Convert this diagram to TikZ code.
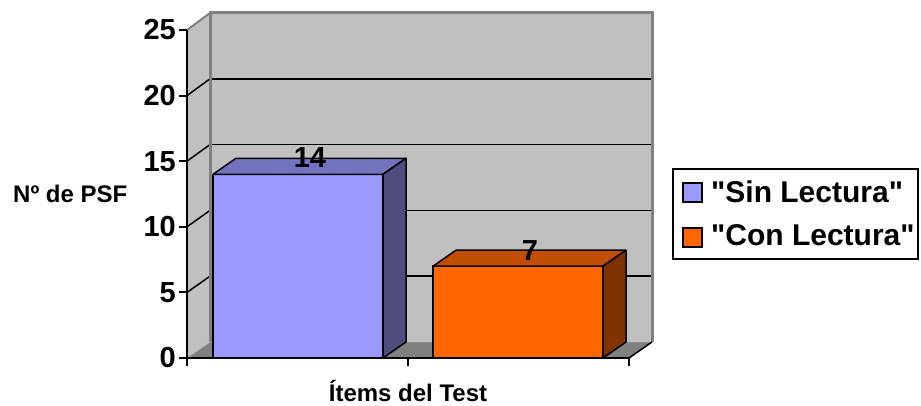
\documentclass[tikz,border=0pt]{standalone}
\usepackage{fontspec}
\setmainfont{Liberation Sans}[Ligatures=TeXOff]
\definecolor{wall}{RGB}{192,192,192}
\definecolor{walledge}{RGB}{128,128,128}
\definecolor{floorc}{RGB}{128,128,128}
\definecolor{sinF}{RGB}{153,153,255}
\definecolor{sinT}{RGB}{115,115,191}
\definecolor{sinS}{RGB}{77,77,128}
\definecolor{conF}{RGB}{255,102,0}
\definecolor{conT}{RGB}{192,77,0}
\definecolor{conS}{RGB}{128,51,0}
\begin{document}
\begin{tikzpicture}[x=1pt,y=-1pt,
  big/.style={font=\bfseries\fontsize{29}{29}\selectfont, inner sep=0pt},
  legtext/.style={font=\bfseries\fontsize{30}{30}\selectfont, inner sep=0pt},
  mid/.style={font=\bfseries\fontsize{24}{24}\selectfont, inner sep=0pt},
  grid/.style={black, line width=1.5pt},
  baredge/.style={draw=black, line width=1.5pt, line join=round},
  axisline/.style={black, line width=2pt}]
\useasboundingbox (0,0) rectangle (921,406);
% walls and floor
\fill[wall] (210,13) rectangle (652,342);
\fill[wall] (187,30) -- (210,13) -- (210,342) -- (187,358) -- cycle;
\fill[floorc] (187,358) -- (210,342) -- (652,342) -- (629,358) -- cycle;
\draw[walledge!60!white, line width=0.8pt] (187,358) -- (210,342) -- (652,342);
% gridlines
\foreach \k in {1,2,3,4}{
  \draw[grid] (210,{342-65.8*\k}) -- (652,{342-65.8*\k});
  \draw[grid] (187,{358-65.6*\k}) -- (210,{342-65.8*\k});
}
% wall borders
\draw[walledge, line width=3pt] (210,342) -- (210,13) -- (652,13) -- (652,342);
\draw[walledge, line width=2pt] (187,30) -- (210,13);
\draw[black, line width=1.5pt] (652,342) -- (629,358);
% bar 1
\filldraw[baredge, fill=sinF] (213,174.3) rectangle (383,358);
\filldraw[baredge, fill=sinT] (213,174.3) -- (236,158.3) -- (406,158.3) -- (383,174.3) -- cycle;
\filldraw[baredge, fill=sinS] (383,174.3) -- (406,158.3) -- (406,342) -- (383,358) -- cycle;
% bar 2
\filldraw[baredge, fill=conF] (433,266.2) rectangle (603,358);
\filldraw[baredge, fill=conT] (433,266.2) -- (456,250.2) -- (626,250.2) -- (603,266.2) -- cycle;
\filldraw[baredge, fill=conS] (603,266.2) -- (626,250.2) -- (626,342) -- (603,358) -- cycle;
% axes
\draw[axisline] (187,30) -- (187,366);
\draw[axisline] (187,358) -- (629,358);
\foreach \x in {408,629} \draw[axisline] (\x,358) -- (\x,366);
\foreach \v/\n in {0/t0,5/t5,10/t10,15/t15,20/t20,25/t25}{
  \draw[axisline] (179,{358-13.12*\v}) -- (187,{358-13.12*\v});
  \node[big, anchor=east] (\n) at (176,{358-13.12*\v}) {\v};
}
% data labels
\node[big, anchor=base] (l14) at (310,168) {14};
\node[big, anchor=base] (l7) at (530,261) {7};
% axis titles
\node[mid, anchor=base west] (ytitle) at (13,203) {Nº de PSF};
\node[mid, anchor=base] (xtitle) at (408,401) {Ítems del Test};
% legend
\draw[black, line width=1.5pt] (673,169) rectangle (918,259);
\filldraw[draw=black, line width=1.2pt, fill=sinF] (683,183) rectangle (702,202);
\filldraw[draw=black, line width=1.2pt, fill=conF] (683,228) rectangle (702,247);
\node[legtext, anchor=base west] (leg1) at (711,203) {"Sin Lectura"};
\node[legtext, anchor=base west] (leg2) at (711,245) {"Con Lectura"};
\end{tikzpicture}
\end{document}
